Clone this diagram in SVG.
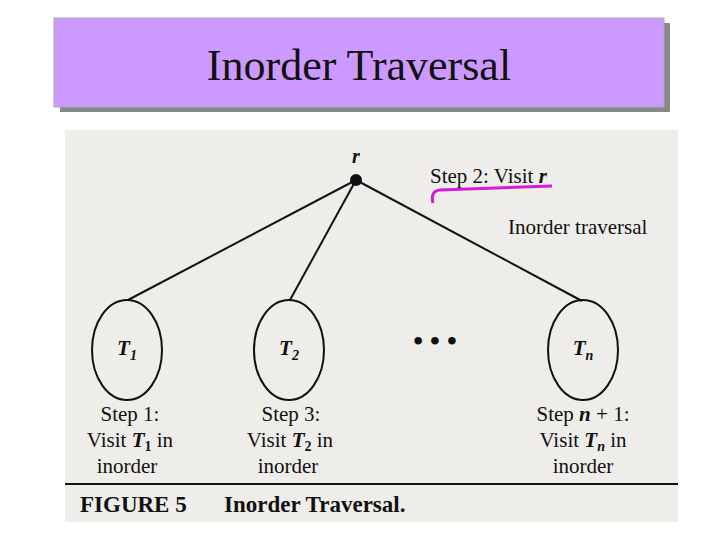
<svg xmlns="http://www.w3.org/2000/svg" width="720" height="540" viewBox="0 0 720 540">
<style>
.t{font-family:"Liberation Serif",serif;fill:#111}
.s{font-size:21px;text-anchor:middle}
.e{fill:none;stroke:#111;stroke-width:2}
</style>
<rect width="720" height="540" fill="#fff"/>
<rect x="60" y="23" width="610" height="89" fill="#888"/>
<rect x="54" y="18" width="610" height="89" fill="#CC99FF" stroke="#aaa" stroke-width="1"/>
<text x="359" y="80" class="t" font-size="44" text-anchor="middle">Inorder Traversal</text>
<rect x="65" y="130" width="613" height="392" fill="#efedea"/>
<g id="connectors" stroke="#111" stroke-width="2" fill="none">
<line x1="356" y1="180" x2="128" y2="300"/>
<line x1="356" y1="180" x2="290" y2="300"/>
<line x1="356" y1="180" x2="582" y2="301"/>
</g>
<g id="root"><circle cx="356" cy="180" r="6" fill="#111"/>
<text x="356" y="163" class="t" font-size="20" font-style="italic" font-weight="bold" text-anchor="middle">r</text></g>
<g id="step2"><text x="430" y="183" class="t" font-size="21">Step 2: Visit <tspan font-style="italic" font-weight="bold">r</tspan></text>
<path d="M552 186 L440 190 Q430 191 433 203" fill="none" stroke="#d61ad6" stroke-width="3"/>
<text x="508" y="234" class="t" font-size="21">Inorder traversal</text></g>
<g id="T1"><ellipse cx="127" cy="350" rx="35" ry="50" class="e"/>
<text x="127" y="355" class="t" font-size="21" font-style="italic" font-weight="bold" text-anchor="middle">T<tspan font-size="14" dy="5">1</tspan></text>
<text x="130" y="421" class="t s">Step 1:</text><text x="130" y="447" class="t s">Visit <tspan font-style="italic" font-weight="bold">T</tspan><tspan font-size="14" dy="4" font-weight="bold">1</tspan><tspan dy="-4"> in</tspan></text><text x="127" y="473" class="t s">inorder</text></g>
<g id="T2"><ellipse cx="289" cy="350" rx="35" ry="50" class="e"/>
<text x="289" y="355" class="t" font-size="21" font-style="italic" font-weight="bold" text-anchor="middle">T<tspan font-size="14" dy="5">2</tspan></text>
<text x="291" y="421" class="t s">Step 3:</text><text x="290" y="447" class="t s">Visit <tspan font-style="italic" font-weight="bold">T</tspan><tspan font-size="14" dy="4" font-weight="bold">2</tspan><tspan dy="-4"> in</tspan></text><text x="288" y="473" class="t s">inorder</text></g>
<g id="dots"><text x="435" y="350" class="t" font-size="28" font-weight="bold" text-anchor="middle">• • •</text></g>
<g id="Tn"><ellipse cx="583" cy="350" rx="35" ry="50" class="e"/>
<text x="583" y="355" class="t" font-size="21" font-style="italic" font-weight="bold" text-anchor="middle">T<tspan font-size="14" dy="5">n</tspan></text>
<text x="583" y="421" class="t s">Step <tspan font-style="italic" font-weight="bold">n</tspan> + 1:</text><text x="583" y="447" class="t s">Visit <tspan font-style="italic" font-weight="bold">T</tspan><tspan font-size="14" dy="4" font-weight="bold" font-style="italic">n</tspan><tspan dy="-4"> in</tspan></text><text x="583" y="473" class="t s">inorder</text></g>
<line x1="65" y1="484" x2="678" y2="484" stroke="#111" stroke-width="2"/>
<text x="80" y="512" class="t" font-size="23" font-weight="bold">FIGURE 5</text>
<text x="224" y="512" class="t" font-size="23" font-weight="bold">Inorder Traversal.</text>
</svg>
